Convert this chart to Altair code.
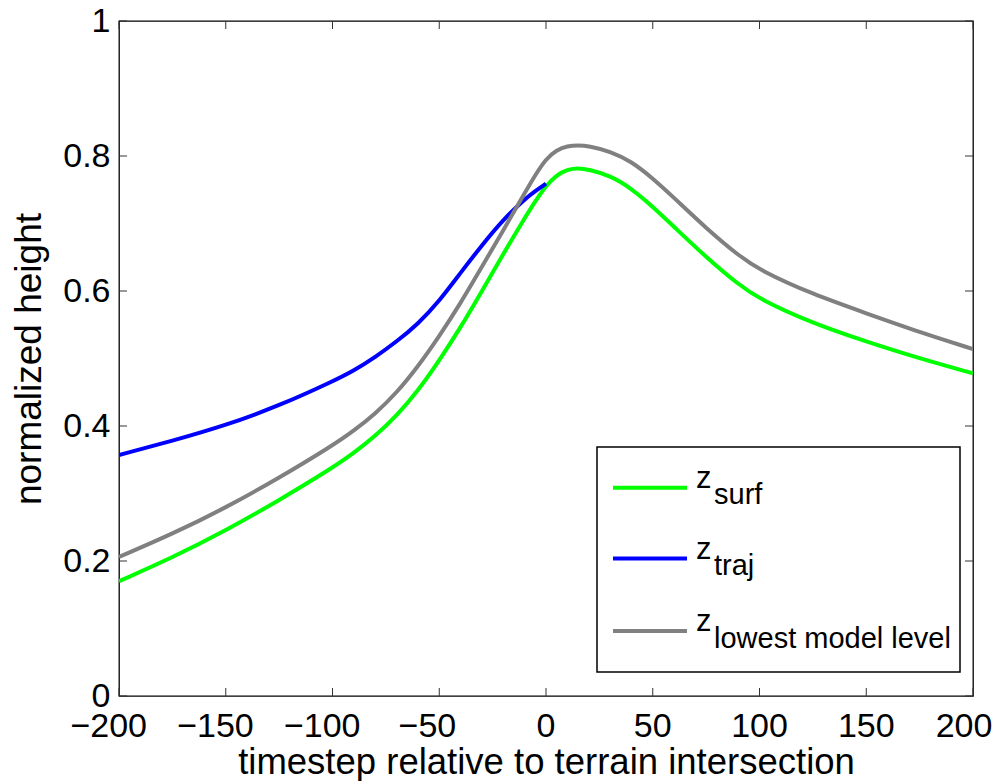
import altair as alt
import pandas as pd

# ---------------- data ----------------
t_surf = [-200, -175, -150, -125, -100, -90, -80, -70, -60, -50, -40, -30, -20, -10,
          -5, 0, 5, 10, 15, 20, 30, 40, 50, 60, 75, 90, 100, 125, 150, 175, 200]
z_surf = [0.170, 0.205, 0.245, 0.290, 0.338, 0.360, 0.385, 0.415, 0.452, 0.497,
          0.546, 0.600, 0.655, 0.708, 0.733, 0.756, 0.772, 0.780, 0.782, 0.780,
          0.771, 0.752, 0.725, 0.695, 0.650, 0.610, 0.588, 0.552, 0.525, 0.500, 0.478]

t_traj = [-200, -175, -150, -125, -100, -90, -80, -70, -60, -50, -40, -30, -20, -10,
          -5, 0]
z_traj = [0.357, 0.378, 0.401, 0.430, 0.466, 0.482, 0.502, 0.525, 0.551, 0.585,
          0.627, 0.668, 0.706, 0.736, 0.748, 0.759]

t_low = [-200, -175, -150, -125, -100, -90, -80, -70, -60, -50, -40, -30, -20, -10,
         -5, 0, 5, 10, 15, 20, 30, 40, 50, 60, 75, 90, 100, 125, 150, 175, 200]
z_low = [0.206, 0.240, 0.279, 0.323, 0.371, 0.393, 0.418, 0.449, 0.488, 0.533,
         0.582, 0.636, 0.690, 0.745, 0.772, 0.796, 0.809, 0.815, 0.816, 0.815,
         0.807, 0.792, 0.767, 0.738, 0.693, 0.653, 0.631, 0.595, 0.567, 0.539, 0.514]

series_names = ["surf", "traj", "lowest model level"]
series_colors = ["#00FF00", "#0000FF", "#808080"]

x_ticks = [-200, -150, -100, -50, 0, 50, 100, 150, 200]
y_ticks = [0, 0.2, 0.4, 0.6, 0.8, 1]

x_title = "timestep relative to terrain intersection"
y_title = "normalized height"

# ---------------- layout ----------------
W, H = 854, 675
FONT = "Liberation Sans"
TICK_LEN = 8
XLAB_SIZE = 34

series_t = [t_surf, t_traj, t_low]
series_z = [z_surf, z_traj, z_low]

one = pd.DataFrame({"k": [0]})

xscale = alt.Scale(domain=[-200, 200], nice=False, zero=False)
yscale = alt.Scale(domain=[0, 1], nice=False, zero=False)

xaxis = alt.Axis(values=x_ticks, title=x_title, labels=False,
                 grid=False, domain=False, ticks=False,
                 titlePadding=48, titleFontSize=36.5,
                 titleFontWeight="normal", titleColor="black", titleFont=FONT)
yaxis = alt.Axis(values=y_ticks, format=".1~f", title=y_title,
                 grid=False, domain=False, ticks=False,
                 labelFlush=False, labelOverlap=False,
                 labelPadding=9, titlePadding=14,
                 labelFontSize=34, titleFontSize=37,
                 titleFontWeight="normal", labelColor="black",
                 titleColor="black", labelFont=FONT, titleFont=FONT)

layers = []
for i, (name, col) in enumerate(zip(series_names, series_colors)):
    df = pd.DataFrame({"timestep": series_t[i], "height": series_z[i]})
    layers.append(
        alt.Chart(df).mark_line(color=col, strokeWidth=4, interpolate="basis",
                                clip=True)
        .encode(x=alt.X("timestep:Q", scale=xscale, axis=xaxis),
                y=alt.Y("height:Q", scale=yscale, axis=yaxis))
    )

# inward ticks on all four sides
xt = pd.DataFrame({"timestep": x_ticks})
yt = pd.DataFrame({"height": y_ticks})
tick_style = dict(color="#333333", strokeWidth=1)
layers.append(alt.Chart(xt).mark_rule(**tick_style).encode(
    x=alt.X("timestep:Q", scale=xscale, axis=xaxis),
    y=alt.value(H), y2=alt.value(H - TICK_LEN)))
layers.append(alt.Chart(xt).mark_rule(**tick_style).encode(
    x=alt.X("timestep:Q", scale=xscale, axis=xaxis),
    y=alt.value(0), y2=alt.value(TICK_LEN)))
layers.append(alt.Chart(yt).mark_rule(**tick_style).encode(
    y=alt.Y("height:Q", scale=yscale, axis=yaxis),
    x=alt.value(0), x2=alt.value(TICK_LEN)))
layers.append(alt.Chart(yt).mark_rule(**tick_style).encode(
    y=alt.Y("height:Q", scale=yscale, axis=yaxis),
    x=alt.value(W), x2=alt.value(W - TICK_LEN)))

# x tick labels (MATLAB style: digits centred on the tick, minus hanging left)
def fmt(v):
    return ("\u2212" + str(abs(v))) if v < 0 else str(v)

label_groups = [
    ([v for v in x_ticks if v < 0 and abs(v) >= 100], "right", 28),
    ([v for v in x_ticks if v < 0 and abs(v) < 100], "right", 17),
    ([v for v in x_ticks if 0 <= v < 200], "center", 0),
    ([v for v in x_ticks if v >= 200], "center", -9),
]
for vals, al, dx in label_groups:
    if not vals:
        continue
    ldf = pd.DataFrame({"timestep": vals, "lab": [fmt(v) for v in vals]})
    layers.append(alt.Chart(ldf).mark_text(align=al, baseline="top", dx=dx,
                                           fontSize=XLAB_SIZE, font=FONT,
                                           color="black").encode(
        x=alt.X("timestep:Q", scale=xscale, axis=xaxis),
        y=alt.value(H + 14), text="lab:N"))

# legend box
LX0, LX1, LY0, LY1 = 478, 841, 426, 651
layers.append(alt.Chart(one).mark_rect(fill="white", stroke="black", strokeWidth=1.5).encode(
    x=alt.value(LX0), x2=alt.value(LX1), y=alt.value(LY0), y2=alt.value(LY1)))
row_y = [466.7, 537.5, 610.0]
for name, col, ry in zip(series_names, series_colors, row_y):
    layers.append(alt.Chart(one).mark_rule(color=col, strokeWidth=4).encode(
        x=alt.value(494), x2=alt.value(568), y=alt.value(ry)))
    layers.append(alt.Chart(one).mark_text(text="z", align="left", baseline="alphabetic",
                                           fontSize=31, font=FONT, color="black").encode(
        x=alt.value(577), y=alt.value(ry)))
    layers.append(alt.Chart(one).mark_text(text=name, align="left", baseline="alphabetic",
                                           fontSize=29, font=FONT, color="black").encode(
        x=alt.value(595), y=alt.value(ry + 16.5)))

chart = alt.layer(*layers).properties(
    width=W, height=H,
    autosize=alt.AutoSizeParams(type="none"),
    padding={"left": 111, "top": 13, "right": 27, "bottom": 85},
    background="white",
).configure_view(stroke="black", strokeWidth=1.3)

chart.save("out.html", embed_options={"renderer": "svg", "actions": False})
